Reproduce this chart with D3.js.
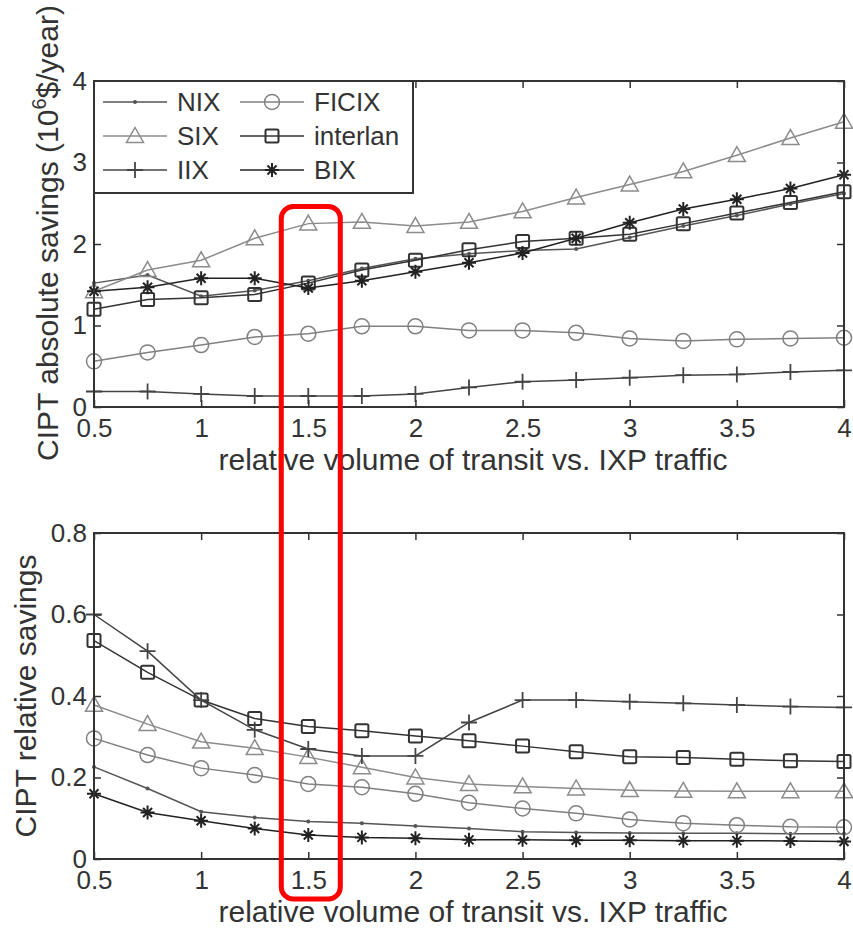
<!DOCTYPE html>
<html><head><meta charset="utf-8">
<script src="https://cdn.jsdelivr.net/npm/d3@7/dist/d3.min.js"></script>
<style>
body{margin:0;background:#fff;}
svg{display:block;font-family:"Liberation Sans",Arial,sans-serif;}
</style></head>
<body><svg id="chart" width="853" height="928"></svg>
<script>
// ---------- data ----------
const xValues = [0.5,0.75,1,1.25,1.5,1.75,2,2.25,2.5,2.75,3,3.25,3.5,3.75,4];
const xTickValues = [0.5,1,1.5,2,2.5,3,3.5,4];
const xTickLabels = ["0.5","1","1.5","2","2.5","3","3.5","4"];
const topYTicks = [0,1,2,3,4];
const topYTickLabels = ["0","1","2","3","4"];
const botYTicks = [0,0.2,0.4,0.6,0.8];
const botYTickLabels = ["0","0.2","0.4","0.6","0.8"];
const seriesNames = ["NIX","FICIX","SIX","interlan","IIX","BIX"];

// top chart: absolute savings (10^6 $/year)
const absNIX      = [1.52,1.62,1.36,1.43,1.55,1.70,1.82,1.88,1.92,1.94,2.08,2.22,2.35,2.49,2.62];
const absFICIX    = [0.56,0.67,0.76,0.86,0.90,0.99,0.99,0.94,0.94,0.91,0.84,0.81,0.83,0.84,0.85];
const absSIX      = [1.42,1.68,1.80,2.07,2.25,2.27,2.22,2.27,2.40,2.57,2.73,2.89,3.09,3.30,3.50];
const absInterlan = [1.20,1.32,1.34,1.38,1.52,1.68,1.80,1.93,2.03,2.07,2.12,2.25,2.38,2.51,2.64];
const absIIX      = [0.19,0.19,0.16,0.135,0.135,0.135,0.16,0.24,0.31,0.33,0.36,0.39,0.40,0.43,0.45];
const absBIX      = [1.42,1.47,1.58,1.58,1.46,1.55,1.66,1.77,1.89,2.07,2.26,2.43,2.55,2.68,2.85];

// bottom chart: relative savings
const relNIX      = [0.226,0.173,0.116,0.102,0.092,0.088,0.081,0.075,0.067,0.065,0.064,0.063,0.063,0.062,0.062];
const relFICIX    = [0.296,0.255,0.223,0.206,0.184,0.176,0.160,0.138,0.124,0.112,0.097,0.088,0.083,0.079,0.078];
const relSIX      = [0.378,0.331,0.288,0.272,0.250,0.225,0.200,0.184,0.178,0.173,0.169,0.167,0.166,0.166,0.166];
const relInterlan = [0.536,0.458,0.390,0.345,0.325,0.315,0.302,0.290,0.277,0.263,0.251,0.249,0.245,0.241,0.239];
const relIIX      = [0.600,0.510,0.390,0.317,0.270,0.253,0.253,0.335,0.390,0.390,0.386,0.382,0.378,0.374,0.372];
const relBIX      = [0.160,0.114,0.094,0.075,0.059,0.053,0.051,0.047,0.047,0.046,0.046,0.045,0.045,0.044,0.043];

// ---------- style ----------
const style = {
  NIX:      {color:"#555", marker:"dot"},
  FICIX:    {color:"#808080", marker:"circle"},
  SIX:      {color:"#8c8c8c", marker:"triangle"},
  interlan: {color:"#333", marker:"square"},
  IIX:      {color:"#444", marker:"plus"},
  BIX:      {color:"#222", marker:"star"}
};
const textColor = "#333";

const svg = d3.select("#chart");
const L = 94, R = 844;
const x = d3.scaleLinear().domain([0.5,4]).range([L,R]);

function drawMarker(g, type, cx, cy, color){
  if(type==="dot"){
    g.append("circle").attr("cx",cx).attr("cy",cy).attr("r",2).attr("fill",color);
  } else if(type==="circle"){
    g.append("circle").attr("cx",cx).attr("cy",cy).attr("r",7.5).attr("fill","none").attr("stroke",color).attr("stroke-width",1.5);
  } else if(type==="triangle"){
    const s=8.5;
    g.append("path").attr("d",`M${cx},${cy-s}L${cx+s},${cy+s*0.75}L${cx-s},${cy+s*0.75}Z`).attr("fill","none").attr("stroke",color).attr("stroke-width",1.5);
  } else if(type==="square"){
    const s=6.5;
    g.append("rect").attr("x",cx-s).attr("y",cy-s).attr("width",2*s).attr("height",2*s).attr("rx",1.5).attr("fill","none").attr("stroke",color).attr("stroke-width",2);
  } else if(type==="plus"){
    const s=8;
    g.append("path").attr("d",`M${cx-s},${cy}H${cx+s}M${cx},${cy-s}V${cx+s-cx+cy}`).attr("stroke",color).attr("stroke-width",1.8).attr("fill","none");
  } else if(type==="star"){
    const s=7, d=4.5;
    g.append("path").attr("d",`M${cx-s},${cy}H${cx+s}M${cx},${cy-s}V${cy+s}M${cx-d},${cy-d}L${cx+d},${cy+d}M${cx-d},${cy+d}L${cx+d},${cy-d}`).attr("stroke",color).attr("stroke-width",2).attr("fill","none");
  }
}

function drawPanel(cfg){
  const y = d3.scaleLinear().domain(cfg.yDomain).range([cfg.bottom,cfg.top]);
  const g = svg.append("g");
  // series
  const line = d3.line().x((d,i)=>x(xValues[i])).y(d=>y(d));
  cfg.series.forEach((vals,k)=>{
    const st = style[seriesNames[k]];
    g.append("path").datum(vals).attr("d",line).attr("fill","none").attr("stroke",st.color).attr("stroke-width",1.5);
    const mg = g.append("g");
    vals.forEach((v,i)=>drawMarker(mg, st.marker, x(xValues[i]), y(v), st.color));
  });
  // axes (inside ticks on all four sides)
  const ax = svg.append("g").attr("color","#333");
  const bottomAx = ax.append("g").attr("transform",`translate(0,${cfg.bottom})`)
    .call(d3.axisBottom(x).tickValues(xTickValues).tickSize(-7).tickSizeOuter(0).tickFormat((d,i)=>xTickLabels[i]));
  bottomAx.selectAll("text").attr("y",30).attr("dy",null).attr("fill",textColor).style("font-size","26px");
  ax.append("g").attr("transform",`translate(0,${cfg.top})`)
    .call(d3.axisTop(x).tickValues(xTickValues).tickSize(-7).tickSizeOuter(0).tickFormat(""));
  const leftAx = ax.append("g").attr("transform",`translate(${L},0)`)
    .call(d3.axisLeft(y).tickValues(cfg.yTicks).tickSize(-7).tickSizeOuter(0).tickFormat((d,i)=>cfg.yTickLabels[i]));
  leftAx.selectAll("text").attr("x",-7).attr("fill",textColor).style("font-size","26px");
  ax.append("g").attr("transform",`translate(${R},0)`)
    .call(d3.axisRight(y).tickValues(cfg.yTicks).tickSize(-7).tickSizeOuter(0).tickFormat(""));
  ax.selectAll(".domain").remove();
  ax.selectAll(".tick line").attr("stroke","#333").attr("stroke-width",1.5);
  ax.append("rect").attr("x",L).attr("y",cfg.top).attr("width",R-L).attr("height",cfg.bottom-cfg.top)
    .attr("fill","none").attr("stroke","#333").attr("stroke-width",2);
  // x label
  svg.append("text").attr("x",(L+R)/2+4).attr("y",cfg.bottom+63).attr("text-anchor","middle")
    .attr("fill",textColor).style("font-size","30px").text("relative volume of transit vs. IXP traffic");
  return y;
}

const yTop = drawPanel({top:81,bottom:407,yDomain:[0,4],yTicks:topYTicks,yTickLabels:topYTickLabels,
  series:[absNIX,absFICIX,absSIX,absInterlan,absIIX,absBIX]});
const yBot = drawPanel({top:533,bottom:859,yDomain:[0,0.8],yTicks:botYTicks,yTickLabels:botYTickLabels,
  series:[relNIX,relFICIX,relSIX,relInterlan,relIIX,relBIX]});

// y labels
const yl1 = svg.append("text").attr("transform",`translate(58,${233}) rotate(-90)`).attr("text-anchor","middle")
  .attr("fill",textColor).style("font-size","30px");
yl1.append("tspan").text("CIPT absolute savings (10");
yl1.append("tspan").attr("dy",-12).style("font-size","20px").text("6");
yl1.append("tspan").attr("dy",12).text("$/year)");
svg.append("text").attr("transform",`translate(36,${(533+859)/2}) rotate(-90)`).attr("text-anchor","middle")
  .attr("fill",textColor).style("font-size","30px").text("CIPT relative savings");

// legend
const lg = svg.append("g");
lg.append("rect").attr("x",L).attr("y",81).attr("width",319).attr("height",112)
  .attr("fill","#fff").attr("stroke","#333").attr("stroke-width",2);
const legendOrder = [["NIX","FICIX"],["SIX","interlan"],["IIX","BIX"]];
legendOrder.forEach((row,r)=>{
  row.forEach((name,c)=>{
    const st = style[name];
    const x0 = c===0 ? L+9 : L+146;
    const yy = 102 + r*34;
    lg.append("line").attr("x1",x0).attr("x2",x0+64).attr("y1",yy).attr("y2",yy).attr("stroke",st.color).attr("stroke-width",1.5);
    drawMarker(lg, st.marker, x0+32, yy, st.color);
    lg.append("text").attr("x",x0+74).attr("y",yy).attr("dy","0.36em").attr("fill",textColor)
      .style("font-size","26px").text(name);
  });
});

// red highlight annotation around x = 1.5
svg.append("rect").attr("x",x(1.5)-27).attr("y",yTop(2.46)).attr("width",59)
  .attr("height",yBot(0)+40-yTop(2.46)).attr("rx",12).attr("fill","none")
  .attr("stroke","#f00").attr("stroke-width",5);
</script></body></html>
